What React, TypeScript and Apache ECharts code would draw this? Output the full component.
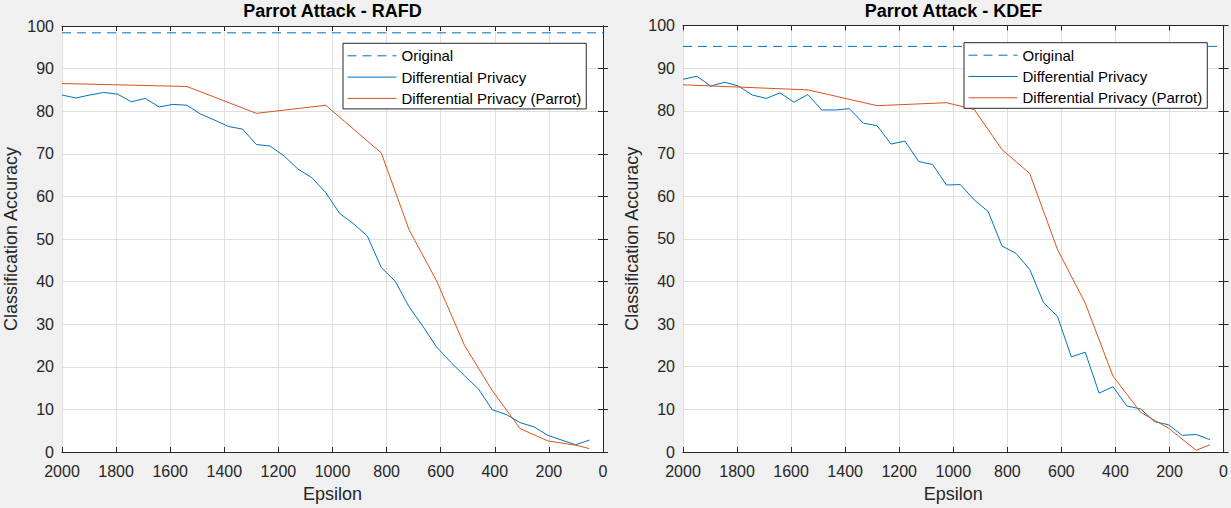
import React, { useEffect, useRef } from "react";
import * as echarts from "echarts";

// Epsilon values of the sampled points (2000 down to 50)
const epsilon = [
  2000, 1948.7, 1897.4, 1846.1, 1794.7, 1743.4, 1692.1, 1640.8, 1589.5, 1538.2,
  1486.8, 1435.5, 1384.2, 1332.9, 1281.6, 1230.3, 1178.9, 1127.6, 1076.3, 1025.0,
  973.7, 922.4, 871.1, 819.7, 768.4, 717.1, 665.8, 614.5, 563.2, 511.8,
  460.5, 409.2, 357.9, 306.6, 255.3, 203.9, 152.6, 101.3, 50,
];

// RAFD
const rafdOriginal = 98.4;
const rafdDP = [
  83.8, 83.1, 83.8, 84.4, 84.0, 82.2, 83.0, 81.0, 81.6, 81.4,
  79.3, 77.9, 76.4, 75.8, 72.2, 71.8, 69.5, 66.4, 64.4, 60.9,
  56.0, 53.6, 50.7, 43.3, 40.1, 34.1, 29.5, 24.6, 21.1, 17.9,
  14.8, 9.9, 8.8, 6.9, 5.9, 3.9, 2.8, 1.7, 2.8,
];
const rafdParrotEps = [2000, 1538.2, 1281.6, 1025.0, 819.7, 717.1, 614.5, 511.8, 409.2, 306.6, 203.9, 101.3, 50];
const rafdParrot = [86.5, 85.8, 79.5, 81.4, 70.2, 52.2, 40.1, 25.0, 14.4, 5.5, 2.6, 1.6, 0.8];

// KDEF
const kdefOriginal = 95.1;
const kdefDP = [
  87.4, 88.1, 85.8, 86.7, 85.8, 83.7, 82.9, 84.2, 82.0, 83.8,
  80.2, 80.2, 80.5, 77.1, 76.5, 72.2, 72.9, 68.1, 67.4, 62.6,
  62.7, 59.1, 56.4, 48.3, 46.6, 42.8, 35.0, 31.8, 22.3, 23.4,
  13.8, 15.3, 10.8, 10.1, 7.1, 6.4, 3.9, 4.1, 2.9,
];
const kdefParrotEps = [2000, 1538.2, 1281.6, 1025.0, 922.4, 819.7, 717.1, 614.5, 511.8, 409.2, 306.6, 203.9, 101.3, 50];
const kdefParrot = [86.1, 84.9, 81.2, 81.9, 80.3, 70.9, 65.3, 47.5, 34.9, 17.8, 9.3, 5.6, 0.4, 1.7];

const titles = ["Parrot Attack - RAFD", "Parrot Attack - KDEF"];
const seriesNames = ["Original", "Differential Privacy", "Differential Privacy (Parrot)"];
const xAxisName = "Epsilon";
const yAxisName = "Classification Accuracy";

const FONT = "'Liberation Sans', Arial, Helvetica, sans-serif";
const AX = "#262626";
const GRIDC = "#dfdfdf";
const BLUE = "#0072BD";
const ORANGE = "#D95319";

const pairs = (xs: number[], ys: number[]) => xs.map((x, i) => [x, ys[i]]);
const plain = (v: number) => String(v);

export default function App() {
  const ref = useRef<HTMLDivElement>(null);
  useEffect(() => {
    if (!ref.current) return;
    const chart = echarts.init(ref.current, undefined, { renderer: "svg" });

    const grids = [
      { left: 62, top: 26, width: 541, height: 427.5 },
      { left: 683, top: 25.5, width: 541, height: 428 },
    ];
    const datasets = [
      { orig: rafdOriginal, dp: rafdDP, pe: rafdParrotEps, p: rafdParrot },
      { orig: kdefOriginal, dp: kdefDP, pe: kdefParrotEps, p: kdefParrot },
    ];

    const xBottom = [0, 1].map((i) => ({
      type: "value",
      gridIndex: i,
      min: 0,
      max: 2000,
      interval: 200,
      inverse: true,
      name: xAxisName,
      nameLocation: "middle",
      nameGap: 33,
      nameTextStyle: { fontSize: 18, color: AX, fontFamily: FONT },
      axisLine: { show: true, lineStyle: { color: AX, width: 1 } },
      axisTick: { show: true, inside: true, length: 5, lineStyle: { color: AX } },
      axisLabel: { fontSize: 16, color: AX, fontFamily: FONT, margin: 11, showMinLabel: true, showMaxLabel: true, formatter: plain },
      splitLine: { show: true, lineStyle: { color: GRIDC, width: 1 } },
    }));
    const xTop = [0, 1].map((i) => ({
      type: "value",
      gridIndex: i,
      min: 0,
      max: 2000,
      interval: 200,
      inverse: true,
      position: "top",
      axisLine: { show: true, onZero: false, lineStyle: { color: AX, width: 1 } },
      axisTick: { show: true, inside: true, length: 5, lineStyle: { color: AX } },
      axisLabel: { show: false },
      splitLine: { show: false },
    }));
    const yLeft = [0, 1].map((i) => ({
      type: "value",
      gridIndex: i,
      min: 0,
      max: 100,
      interval: 10,
      name: yAxisName,
      nameLocation: "middle",
      nameGap: 42,
      nameTextStyle: { fontSize: 18, color: AX, fontFamily: FONT },
      axisLine: { show: true, lineStyle: { color: AX, width: 1 } },
      axisTick: { show: true, inside: true, length: 5, lineStyle: { color: AX } },
      axisLabel: { fontSize: 16, color: AX, fontFamily: FONT, margin: 8, showMinLabel: true, showMaxLabel: true, formatter: plain },
      splitLine: { show: true, lineStyle: { color: GRIDC, width: 1 } },
    }));
    const yRight = [0, 1].map((i) => ({
      type: "value",
      gridIndex: i,
      min: 0,
      max: 100,
      interval: 10,
      position: "right",
      axisLine: { show: true, onZero: false, lineStyle: { color: AX, width: 1 } },
      axisTick: { show: true, inside: true, length: 5, lineStyle: { color: AX } },
      axisLabel: { show: false },
      splitLine: { show: false },
    }));

    const series: any[] = [];
    datasets.forEach((d, i) => {
      series.push({
        name: seriesNames[0],
        type: "line",
        xAxisIndex: i,
        yAxisIndex: i,
        data: [[2000, d.orig], [0, d.orig]],
        symbol: "none",
        lineStyle: { color: BLUE, width: 1, type: [9, 6] },
        itemStyle: { color: BLUE },
      });
      series.push({
        name: seriesNames[1],
        type: "line",
        xAxisIndex: i,
        yAxisIndex: i,
        data: pairs(epsilon, d.dp),
        symbol: "none",
        lineStyle: { color: BLUE, width: 1 },
        itemStyle: { color: BLUE },
      });
      series.push({
        name: seriesNames[2],
        type: "line",
        xAxisIndex: i,
        yAxisIndex: i,
        data: pairs(d.pe, d.p),
        symbol: "none",
        lineStyle: { color: ORANGE, width: 1 },
        itemStyle: { color: ORANGE },
      });
    });

    const legendBase = {
      orient: "vertical",
      data: seriesNames,
      selectedMode: false,
      itemWidth: 49,
      itemHeight: 14,
      itemGap: 6.3,
      padding: [5, 5, 3, 4],
      backgroundColor: "#ffffff",
      borderColor: AX,
      borderWidth: 1,
      borderRadius: 0,
      itemStyle: { opacity: 0 },
      lineStyle: { width: 1 },
      textStyle: { fontSize: 15, color: "#000000", fontFamily: FONT },
      z: 10,
    };

    chart.setOption({
      animation: false,
      backgroundColor: "#f0f0f0",
      title: [0, 1].map((i) => ({
        text: titles[i],
        left: grids[i].left + grids[i].width / 2,
        top: 2,
        textAlign: "center",
        padding: 0,
        textStyle: { fontSize: 18, fontWeight: "bold", color: "#000000", fontFamily: FONT },
      })),
      grid: grids.map((g) => ({ ...g, show: true, backgroundColor: "#ffffff", borderWidth: 0 })),
      legend: [
        { ...legendBase, left: 343, top: 43.3 },
        { ...legendBase, left: 964, top: 42.7 },
      ],
      xAxis: [...xBottom, ...xTop],
      yAxis: [...yLeft, ...yRight],
      series,
    });
    return () => chart.dispose();
  }, []);

  return (
    <div
      ref={ref}
      style={{ position: "fixed", left: 0, top: 0, width: 1231, height: 508, background: "#f0f0f0" }}
    />
  );
}
